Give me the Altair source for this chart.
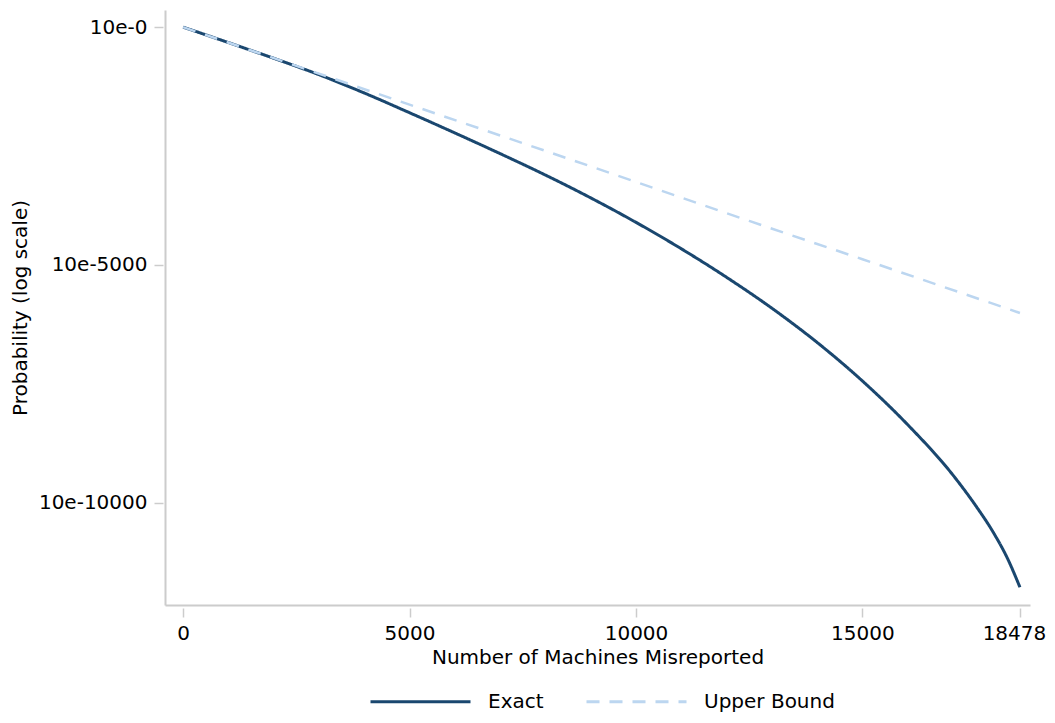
import altair as alt
import pandas as pd

# Exact series: number misreported vs log10 probability (exponent)
exact_x = [0, 1000, 2000, 3000, 4000, 5000, 6000, 7000, 8000, 9000, 10000,
           11000, 12000, 13000, 14000, 15000, 16000, 17000, 17500, 17900, 18200, 18478]
exact_y = [0, -325, -655, -1000, -1385, -1800, -2225, -2660, -3110, -3590, -4105,
           -4660, -5260, -5910, -6630, -7440, -8360, -9420, -10060, -10640, -11165, -11777]

# Upper bound series
ub_x = [0, 2500, 5000, 7500, 10000, 12500, 15000, 18478]
ub_y = [0, -815, -1630, -2440, -3255, -4075, -4880, -6010]

series_names = ["Exact", "Upper Bound"]
x_ticks = [0, 5000, 10000, 15000, 18478]
y_ticks = [0, -5000, -10000]

df_exact = pd.DataFrame({"n": exact_x, "logp": exact_y, "series": "Exact"})
df_ub = pd.DataFrame({"n": ub_x, "logp": ub_y, "series": "Upper Bound"})

FONT = "DejaVu Sans"
GRAY = "#cccccc"
FS = 20

xscale = alt.Scale(domain=[-400, 18700], nice=False, zero=False)
yscale = alt.Scale(domain=[-12150, 360], nice=False, zero=False)

color = alt.Color(
    "series:N",
    scale=alt.Scale(domain=series_names, range=["#1a476f", "#bcd6f0"]),
    legend=alt.Legend(title=None),
)
dash = alt.StrokeDash(
    "series:N",
    scale=alt.Scale(domain=series_names, range=[[1, 0], [13, 10]]),
    legend=alt.Legend(title=None),
)

axis_x_domain = alt.Axis(orient="bottom", ticks=False, labels=False, title=None,
                         domain=True, domainColor=GRAY, domainWidth=2, grid=False)
axis_y_domain = alt.Axis(orient="left", ticks=False, labels=False, title=None,
                         domain=True, domainColor=GRAY, domainWidth=2, grid=False)

axis_x_ticks = alt.Axis(orient="bottom", offset=3, domain=False, grid=False,
                        values=x_ticks, format="d", tickColor=GRAY, tickWidth=1.5,
                        tickSize=9, labelFont=FONT, labelFontSize=FS, labelColor="black",
                        labelPadding=6, labelFlush=False, labelOverlap=False,
                        labelOffset={"condition": {"test": "datum.value == 18478", "value": -6},
                                     "value": 0},
                        title="Number of Machines Misreported", titleFont=FONT,
                        titleFontSize=FS, titleFontWeight="normal", titleColor="black",
                        titlePadding=4)
axis_y_ticks = alt.Axis(orient="left", offset=2, domain=False, grid=False,
                        values=y_ticks, labelExpr="'10e-' + abs(datum.value)",
                        tickColor=GRAY, tickWidth=1.5, tickSize=9, labelFont=FONT,
                        labelFontSize=FS, labelColor="black", labelPadding=7,
                        labelOverlap=False, title="Probability (log scale)",
                        titleFont=FONT, titleFontSize=FS, titleFontWeight="normal",
                        titleColor="black", titlePadding=8)

exact_layer = alt.Chart(df_exact).mark_line(strokeWidth=3, interpolate="monotone").encode(
    x=alt.X("n:Q", scale=xscale, axis=axis_x_domain),
    y=alt.Y("logp:Q", scale=yscale, axis=axis_y_domain),
    color=color,
    strokeDash=dash,
)

ub_layer = alt.Chart(df_ub).mark_line(strokeWidth=2.5, interpolate="monotone").encode(
    x=alt.X("n:Q", scale=xscale, axis=axis_x_ticks),
    y=alt.Y("logp:Q", scale=yscale, axis=axis_y_ticks),
    color=color,
    strokeDash=dash,
)

chart = alt.layer(exact_layer, ub_layer).resolve_axis(
    x="independent", y="independent"
).properties(
    width=865,
    height=595,
    autosize=alt.AutoSizeParams(type="none"),
    padding={"left": 157, "top": 2, "right": 17, "bottom": 110},
    background="white",
).configure_view(
    stroke=None
).configure_legend(
    orient="none",
    legendX=204,
    legendY=640,
    direction="horizontal",
    symbolType="stroke",
    symbolSize=10000,
    symbolStrokeWidth=3,
    labelFont=FONT,
    labelFontSize=FS,
    labelColor="black",
    labelOffset=16,
    columnPadding=36,
    padding=0,
)

chart.save("out.html", embed_options={"renderer": "svg", "actions": False})
